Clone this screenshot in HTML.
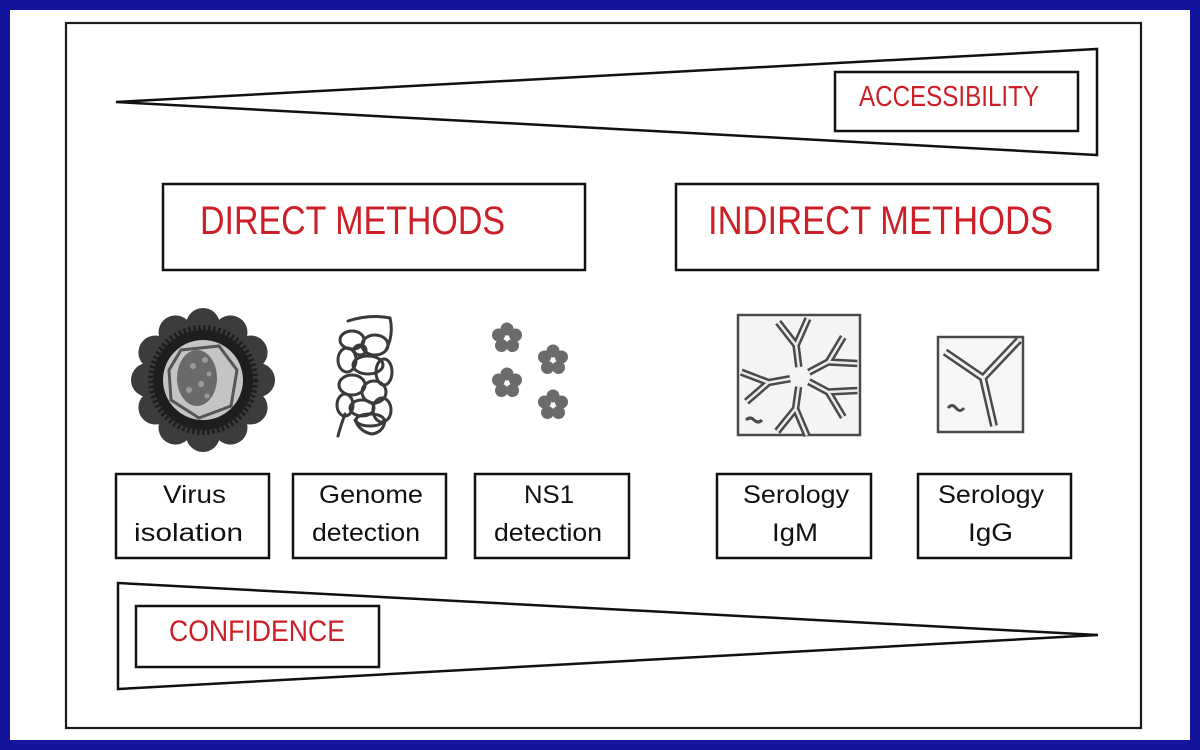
<!DOCTYPE html>
<html>
<head>
<meta charset="utf-8">
<style>
html,body{margin:0;padding:0;background:#fff;}
svg{display:block;}
</style>
</head>
<body>
<svg width="1200" height="750" viewBox="0 0 1200 750" xmlns="http://www.w3.org/2000/svg">
  <defs>
    <g id="ab">
      <path d="M10,0 L32,0 M32,0 L57,-15 M32,0 L57,15" fill="none" stroke="#4a4a4a" stroke-width="7.5"/>
      <path d="M10,0 L32,0 M32,0 L57,-15 M32,0 L57,15" fill="none" stroke="#ececec" stroke-width="2.5"/>
    </g>
  </defs>
  <!-- blue frame -->
  <rect x="0" y="0" width="1200" height="750" fill="#13139b"/>
  <rect x="10" y="10" width="1180" height="730" fill="#ffffff"/>
  <!-- outer box -->
  <rect x="66" y="23" width="1075" height="705" fill="none" stroke="#1a1a1a" stroke-width="2.2"/>

  <!-- accessibility wedge -->
  <polygon points="116,102 1097,49 1097,155" fill="none" stroke="#111" stroke-width="2.5" stroke-linejoin="miter"/>
  <rect x="835" y="72" width="243" height="59" fill="#fff" stroke="#111" stroke-width="2.5"/>
  <text x="859" y="106" font-family="Liberation Sans, sans-serif" font-size="29" fill="#cc1f27" textLength="180" lengthAdjust="spacingAndGlyphs">ACCESSIBILITY</text>

  <!-- method headers -->
  <rect x="163" y="184" width="422" height="86" fill="none" stroke="#111" stroke-width="2.5"/>
  <text x="200" y="234" font-family="Liberation Sans, sans-serif" font-size="40" fill="#cc1f27" textLength="305" lengthAdjust="spacingAndGlyphs">DIRECT METHODS</text>
  <rect x="676" y="184" width="422" height="86" fill="none" stroke="#111" stroke-width="2.5"/>
  <text x="708" y="234" font-family="Liberation Sans, sans-serif" font-size="40" fill="#cc1f27" textLength="345" lengthAdjust="spacingAndGlyphs">INDIRECT METHODS</text>

  <!-- virus icon -->
  <g transform="translate(203,380)">
    <g fill="#3c3c3c">
      <circle cx="0" cy="-55" r="17"/>
      <circle cx="27.5" cy="-47.6" r="17"/>
      <circle cx="47.6" cy="-27.5" r="17"/>
      <circle cx="55" cy="0" r="17"/>
      <circle cx="47.6" cy="27.5" r="17"/>
      <circle cx="27.5" cy="47.6" r="17"/>
      <circle cx="0" cy="55" r="17"/>
      <circle cx="-27.5" cy="47.6" r="17"/>
      <circle cx="-47.6" cy="27.5" r="17"/>
      <circle cx="-55" cy="0" r="17"/>
      <circle cx="-47.6" cy="-27.5" r="17"/>
      <circle cx="-27.5" cy="-47.6" r="17"/>
    </g>
    <circle cx="0" cy="0" r="50" fill="#1e1e1e"/>
    <circle cx="0" cy="0" r="52" fill="none" stroke="#1e1e1e" stroke-width="6" stroke-dasharray="2.5 2.5"/>
    <circle cx="0" cy="0" r="40" fill="#c4c4c4"/>
    <polygon points="-22,-30 16,-34 34,-10 28,26 -4,38 -32,20 -34,-10" fill="none" stroke="#555" stroke-width="3"/>
    <ellipse cx="-6" cy="-2" rx="20" ry="28" fill="#6a6a6a"/>
    <g fill="#9a9a9a">
      <circle cx="-10" cy="-14" r="3"/><circle cx="2" cy="-20" r="3"/><circle cx="-2" cy="4" r="3"/>
      <circle cx="6" cy="-6" r="2.5"/><circle cx="-14" cy="10" r="3"/><circle cx="4" cy="16" r="2.5"/>
    </g>
  </g>

  <!-- genome icon -->
  <g fill="none" stroke="#3a3a3a" stroke-width="3" stroke-linecap="round">
    <path d="M348,321 Q370,314 390,318 Q394,335 386,350"/>
    <ellipse cx="352" cy="340" rx="12" ry="9"/>
    <ellipse cx="375" cy="345" rx="13" ry="10"/>
    <ellipse cx="347" cy="360" rx="9" ry="12"/>
    <ellipse cx="368" cy="365" rx="15" ry="9"/>
    <ellipse cx="384" cy="372" rx="8" ry="13"/>
    <ellipse cx="352" cy="385" rx="13" ry="10"/>
    <ellipse cx="374" cy="392" rx="12" ry="11"/>
    <ellipse cx="345" cy="405" rx="8" ry="11"/>
    <ellipse cx="362" cy="408" rx="12" ry="8"/>
    <ellipse cx="382" cy="410" rx="9" ry="12"/>
    <ellipse cx="360" cy="350" rx="6" ry="5"/>
    <ellipse cx="370" cy="420" rx="14" ry="6"/>
    <path d="M345,414 Q340,428 338,436"/>
    <path d="M355,420 Q360,432 372,434 Q384,432 385,420"/>
  </g>

  <!-- NS1 icon -->
  <g fill="#6b6b6b">
    <g transform="translate(507,338)">
      <circle cx="0" cy="-9" r="6.5"/><circle cx="8.5" cy="-3" r="6.5"/><circle cx="5.5" cy="7.5" r="6.5"/><circle cx="-5.5" cy="7.5" r="6.5"/><circle cx="-8.5" cy="-3" r="6.5"/>
    </g>
    <g transform="translate(507,383)">
      <circle cx="0" cy="-9" r="6.5"/><circle cx="8.5" cy="-3" r="6.5"/><circle cx="5.5" cy="7.5" r="6.5"/><circle cx="-5.5" cy="7.5" r="6.5"/><circle cx="-8.5" cy="-3" r="6.5"/>
    </g>
    <g transform="translate(553,360)">
      <circle cx="0" cy="-9" r="6.5"/><circle cx="8.5" cy="-3" r="6.5"/><circle cx="5.5" cy="7.5" r="6.5"/><circle cx="-5.5" cy="7.5" r="6.5"/><circle cx="-8.5" cy="-3" r="6.5"/>
    </g>
    <g transform="translate(553,405)">
      <circle cx="0" cy="-9" r="6.5"/><circle cx="8.5" cy="-3" r="6.5"/><circle cx="5.5" cy="7.5" r="6.5"/><circle cx="-5.5" cy="7.5" r="6.5"/><circle cx="-8.5" cy="-3" r="6.5"/>
    </g>
  </g>

  <!-- IgM icon -->
  <rect x="738" y="315" width="122" height="120" fill="#f4f4f4" stroke="#4a4a4a" stroke-width="2.5"/>
  <g transform="translate(800,377)">
    <use href="#ab" transform="rotate(-97)"/>
    <use href="#ab" transform="rotate(-28)"/>
    <use href="#ab" transform="rotate(28)"/>
    <use href="#ab" transform="rotate(98)"/>
    <use href="#ab" transform="rotate(170)"/>
    <circle cx="0" cy="0" r="9" fill="#f4f4f4"/>
  </g>
  <path d="M746,420 q4,-4 8,0 q4,4 8,0" fill="none" stroke="#4a4a4a" stroke-width="3"/>

  <!-- IgG icon -->
  <rect x="938" y="337" width="85" height="95" fill="#f6f6f6" stroke="#4a4a4a" stroke-width="2.5"/>
  <g fill="none" stroke-linecap="butt">
    <path d="M994,426 L983,378 M983,378 L945,352 M983,378 L1019,340" stroke="#4a4a4a" stroke-width="8"/>
    <path d="M994,426 L983,378 M983,378 L945,352 M983,378 L1019,340" stroke="#f2f2f2" stroke-width="3"/>
  </g>
  <path d="M948,408 q4,-5 8,0 q4,5 8,0" fill="none" stroke="#4a4a4a" stroke-width="3"/>

  <!-- label boxes -->
  <g fill="none" stroke="#111" stroke-width="2.5">
    <rect x="116" y="474" width="153" height="84"/>
    <rect x="293" y="474" width="153" height="84"/>
    <rect x="475" y="474" width="154" height="84"/>
    <rect x="717" y="474" width="154" height="84"/>
    <rect x="918" y="474" width="153" height="84"/>
  </g>
  <g font-family="Liberation Sans, sans-serif" font-size="25" fill="#111">
    <text x="163" y="503" textLength="63" lengthAdjust="spacingAndGlyphs">Virus</text>
    <text x="134" y="541" textLength="109" lengthAdjust="spacingAndGlyphs">isolation</text>
    <text x="319" y="503" textLength="104" lengthAdjust="spacingAndGlyphs">Genome</text>
    <text x="312" y="541" textLength="108" lengthAdjust="spacingAndGlyphs">detection</text>
    <text x="524" y="503" textLength="50" lengthAdjust="spacingAndGlyphs">NS1</text>
    <text x="494" y="541" textLength="108" lengthAdjust="spacingAndGlyphs">detection</text>
    <text x="743" y="503" textLength="106" lengthAdjust="spacingAndGlyphs">Serology</text>
    <text x="772" y="541" textLength="46" lengthAdjust="spacingAndGlyphs">IgM</text>
    <text x="938" y="503" textLength="106" lengthAdjust="spacingAndGlyphs">Serology</text>
    <text x="968" y="541" textLength="45" lengthAdjust="spacingAndGlyphs">IgG</text>
  </g>

  <!-- confidence wedge -->
  <polygon points="118,583 1098,635 118,689" fill="none" stroke="#111" stroke-width="2.5"/>
  <rect x="136" y="606" width="243" height="61" fill="#fff" stroke="#111" stroke-width="2.5"/>
  <text x="169" y="641" font-family="Liberation Sans, sans-serif" font-size="30" fill="#cc1f27" textLength="176" lengthAdjust="spacingAndGlyphs">CONFIDENCE</text>
</svg>
</body>
</html>
